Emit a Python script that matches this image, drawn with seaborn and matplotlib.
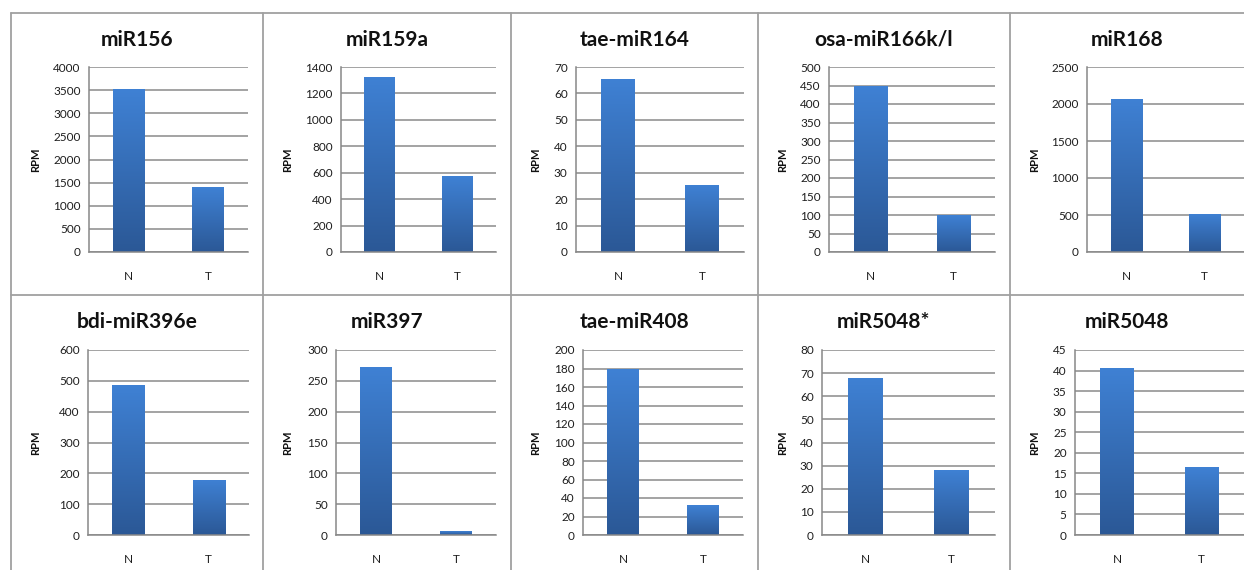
import numpy as np
import pandas as pd
import matplotlib
matplotlib.use("Agg")
import matplotlib.pyplot as plt
import seaborn as sns
from matplotlib.colors import LinearSegmentedColormap
from matplotlib.lines import Line2D

# ---------------- data ----------------
titles = ["miR156", "miR159a", "tae-miR164", "osa-miR166k/l", "miR168",
          "bdi-miR396e", "miR397", "tae-miR408", "miR5048*", "miR5048"]
categories = ["N", "T"]
n_values = [3520, 1325, 65.5, 448, 2070, 485, 272, 179, 68, 40.7]
t_values = [1400, 575, 25.5, 100, 520, 180, 6, 32, 28, 16.5]
y_max = [4000, 1400, 70, 500, 2500, 600, 300, 200, 80, 45]
y_step = [500, 200, 10, 50, 500, 100, 50, 20, 10, 5]
y_label = "RPM"

# ---------------- style ----------------
sns.set_theme(style="white")
plt.rcParams['font.family'] = ['Lato', 'DejaVu Sans']

W, H = 1244, 570
fig = plt.figure(figsize=(W / 100, H / 100), dpi=100)

# axes boxes in pixels: (left, right, top, bottom)
boxes = [(89, 248, 67, 252), (341, 496, 67, 252), (576, 744, 67, 252),
         (829, 995, 67, 252), (1087, 1244, 67, 252),
         (88, 249, 350, 535), (336, 496, 350, 535), (583, 743, 350, 535),
         (822, 995, 350, 535), (1075, 1244, 350, 535)]
cells = [(11, 263), (263, 511), (511, 758), (758, 1010), (1010, 1244)]
title_y = [40, 322]
grid_c = "#9c9c9c"
cmap = LinearSegmentedColormap.from_list("bar", ["#2b5896", "#3f81d4"])

for i, title in enumerate(titles):
    l, r, t, b = boxes[i]
    ax = fig.add_axes([l / W, 1 - b / H, (r - l) / W, (b - t) / H])
    df = pd.DataFrame({"group": categories, "RPM": [n_values[i], t_values[i]]})
    sns.barplot(data=df, x="group", y="RPM", color="#3a78c8", width=0.4,
                ax=ax, zorder=2)
    ymax = y_max[i]
    ax.set_xlim(-0.5, 1.5)
    ax.set_ylim(0, ymax)
    ax.set_yticks(np.arange(0, ymax + y_step[i] / 2, y_step[i]))
    ax.set_xlabel("")
    ax.set_ylabel("")
    ax.yaxis.grid(True, color=grid_c, lw=1.3)
    ax.set_axisbelow(True)
    for s in ["top", "right"]:
        ax.spines[s].set_visible(False)
    for s in ["left", "bottom"]:
        ax.spines[s].set_color("#888888")
        ax.spines[s].set_linewidth(1.1)
    ax.tick_params(axis="both", length=0, labelsize=8.5, colors="#1e1e1e")
    ax.tick_params(axis="x", pad=14)
    ax.tick_params(axis="y", pad=6)
    grad = np.linspace(0, 1, 256).reshape(-1, 1)
    for p in list(ax.patches):
        x0, w, h = p.get_x(), p.get_width(), p.get_height()
        im = ax.imshow(grad, cmap=cmap, origin="lower", aspect="auto",
                       extent=[x0, x0 + w, 0, h], zorder=2.5,
                       interpolation="bilinear")
        im.set_clip_path(p)
        p.set_facecolor("none")
        p.set_edgecolor("none")
    ax.set_xlim(-0.5, 1.5)
    ax.set_ylim(0, ymax)

    row, col = divmod(i, 5)
    cl, cr = cells[col]
    fig.text((cl + cr) / 2 / W, 1 - title_y[row] / H, title, ha="center",
             va="center", fontsize=15, fontweight="bold", color="#111111")
    fig.text((cl + 25) / W, 1 - ((t + b) / 2) / H, y_label, rotation=90,
             ha="center", va="center", fontsize=8, fontweight="bold",
             color="#111111")

# cell borders
bc = "#a0a0a0"
fig.add_artist(Line2D([11 / W, 1], [1 - 13 / H] * 2, color=bc, lw=1.3))
fig.add_artist(Line2D([11 / W, 1], [1 - 295 / H] * 2, color=bc, lw=1.3))
for x in [11, 263, 511, 758, 1010]:
    fig.add_artist(Line2D([x / W] * 2, [0, 1 - 13 / H], color=bc, lw=1.3))

fig.savefig("out.png", dpi=100)
